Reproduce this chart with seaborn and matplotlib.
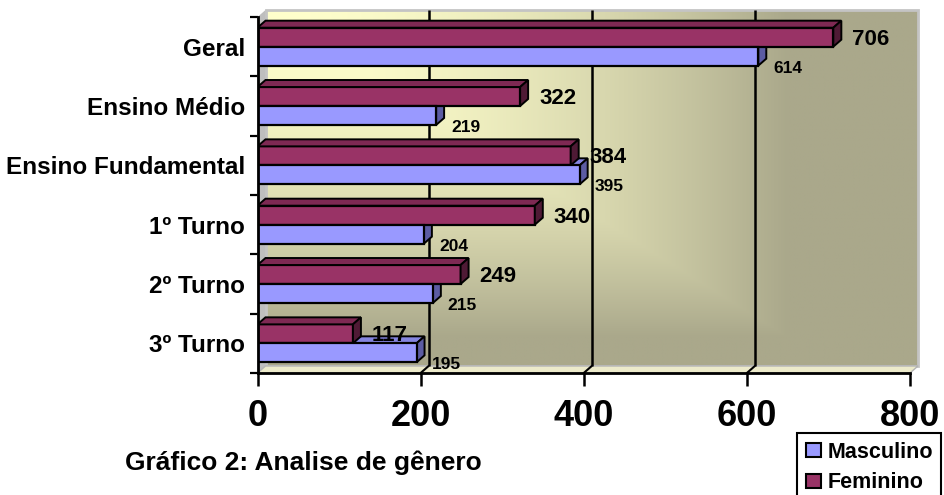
import numpy as np
import pandas as pd
import matplotlib
matplotlib.use("Agg")
import matplotlib.pyplot as plt
import seaborn as sns
from matplotlib.patches import Polygon, Patch, Rectangle
from matplotlib.colors import to_rgb

# ---- data -------------------------------------------------------------
categories = ["Geral", "Ensino Médio", "Ensino Fundamental",
              "1º Turno", "2º Turno", "3º Turno"]
masculino = [614, 219, 395, 204, 215, 195]
feminino = [706, 322, 384, 340, 249, 117]
x_ticks = [0, 200, 400, 600, 800]
series_names = ["Masculino", "Feminino"]
chart_title = "Gráfico 2: Analise de gênero"

df = pd.DataFrame({
    "categoria": categories * 2,
    "valor": masculino + feminino,
    "sexo": [series_names[0]] * len(categories) + [series_names[1]] * len(categories),
})
values = {"Masculino": masculino, "Feminino": feminino}

# ---- style --------------------------------------------------------------
W, H, DPI = 944, 495, 100
sns.set_theme(style="white")
plt.rcParams["font.family"] = ["Liberation Sans", "DejaVu Sans"]
plt.rcParams["font.weight"] = "bold"
for key in ("text.color", "axes.labelcolor", "xtick.color", "ytick.color"):
    plt.rcParams[key] = "black"

front = {"Masculino": "#9999FF", "Feminino": "#993366"}
top_face = {"Masculino": "#8585E0", "Feminino": "#7E2953"}
side_face = {"Masculino": "#5C5CA3", "Feminino": "#4F1A35"}

fig = plt.figure(figsize=(W / DPI, H / DPI), dpi=DPI)
fig.patch.set_facecolor("white")
ax = fig.add_axes([257.5 / W, 1 - 373 / H, (910 - 257.5) / W, (373 - 17) / H])
ax.set_facecolor("none")

sns.barplot(data=df, y="categoria", x="valor", hue="sexo",
            hue_order=["Feminino", "Masculino"], order=categories,
            palette=front, saturation=1, orient="h", width=0.64, gap=0,
            dodge=True, edgecolor="black", linewidth=1.6, errorbar=None,
            legend=False, ax=ax, zorder=3)
bars = list(ax.patches)

XLIM = (0, 800)
YLIM = (len(categories) - 0.5, -0.5)
ax.set_xlim(*XLIM)
ax.set_ylim(*YLIM)

# depth of the pseudo-3D effect, 8 px right and 7 px up, in data units
inv = ax.transData.inverted()
origin = ax.transData.transform((0, 0))
DX, DY = inv.transform(origin + np.array([8.0, 7.0]))
y_top, y_bot = YLIM[1], YLIM[0]

# ---- back wall with corner gradient -----------------------------------
nx, ny = 400, 240
u = np.linspace(0, 1, nx)[None, :]
v = np.linspace(0, 1, ny)[:, None]
t = np.clip(np.maximum(u / 0.8, v / 0.92), 0, 1) ** 1.8
light = np.array(to_rgb("#FFFFCC"))
dark = np.array(to_rgb("#AAA88B"))
img = light * (1 - t[..., None]) + dark * t[..., None]
ax.imshow(img, extent=(XLIM[0] + DX, XLIM[1] + DX, y_bot + DY, y_top + DY),
          aspect="auto", zorder=0, clip_on=False, interpolation="bilinear")
ax.set_xlim(*XLIM)
ax.set_ylim(*YLIM)

ax.add_patch(Rectangle((XLIM[0] + DX, y_top + DY), XLIM[1] - XLIM[0], y_bot - y_top,
                       fill=False, edgecolor="#C4C4C4", lw=2, zorder=0.5, clip_on=False))

# left wall and floor
ax.add_patch(Polygon([(0, y_top), (DX, y_top + DY), (DX, y_bot + DY), (0, y_bot)],
                     closed=True, facecolor="#BEBEBE", edgecolor="none",
                     zorder=0.6, clip_on=False))
ax.add_patch(Polygon([(0, y_bot), (DX, y_bot + DY), (XLIM[1] + DX, y_bot + DY), (XLIM[1], y_bot)],
                     closed=True, facecolor="#ECEACA", edgecolor="#B4B4B4", lw=1,
                     zorder=0.6, clip_on=False))

# gridlines on the back wall and across the floor
for gx in x_ticks[1:-1]:
    ax.plot([gx + DX, gx + DX], [y_top + DY, y_bot + DY], color="black", lw=1.8,
            zorder=1, clip_on=False, solid_capstyle="butt")
    ax.plot([gx + DX, gx], [y_bot + DY, y_bot], color="black", lw=1.5,
            zorder=1, clip_on=False)

# ---- pseudo-3D faces and value labels ---------------------------------
def series_of(rect):
    fc = np.array(rect.get_facecolor()[:3])
    best, dist = None, 1e9
    for name, col in front.items():
        d = np.abs(fc - np.array(to_rgb(col))).sum()
        if d < dist:
            best, dist = name, d
    return best

for rect in bars:
    name = series_of(rect)
    x0, w = rect.get_x(), rect.get_width()
    y0, h = rect.get_y(), rect.get_height()
    x1 = x0 + w
    yt, yb = min(y0, y0 + h), max(y0, y0 + h)
    z = 3 if name == "Feminino" else 2
    ax.add_patch(Polygon([(x0, yt), (x1, yt), (x1 + DX, yt + DY), (x0 + DX, yt + DY)],
                         closed=True, facecolor=top_face[name], edgecolor="black",
                         lw=1.4, zorder=z, joinstyle="miter"))
    ax.add_patch(Polygon([(x1, yt), (x1, yb), (x1 + DX, yb + DY), (x1 + DX, yt + DY)],
                         closed=True, facecolor=side_face[name], edgecolor="black",
                         lw=1.4, zorder=z, joinstyle="miter"))

    idx = int(round((yt + yb) / 2))
    val = values[name][idx]
    yc = (yt + yb) / 2
    if name == "Feminino":
        ax.annotate(f"{val}", xy=(val, yc), xytext=(19, -2), textcoords="offset pixels",
                    ha="left", va="center", fontsize=16, fontweight="bold",
                    color="black", zorder=5)
    else:
        ax.annotate(f"{val}", xy=(val, yc), xytext=(15, -12), textcoords="offset pixels",
                    ha="left", va="center", fontsize=12.5, fontweight="bold",
                    color="black", zorder=5)

# ---- axes ----------------------------------------------------------------
ax.set_xlabel("")
ax.set_ylabel("")
ax.set_yticks(range(len(categories)))
ax.set_yticklabels(categories, fontsize=17.5, fontweight="bold")
ax.set_yticks(np.arange(-0.5, len(categories), 1.0), minor=True)
ax.set_xticks(x_ticks)
ax.set_xticklabels([str(v) for v in x_ticks], fontsize=26, fontweight="bold")
ax.tick_params(axis="y", which="major", left=True, length=0, pad=9)
ax.tick_params(axis="y", which="minor", left=True, length=6, width=1.6,
               color="black", direction="out")
ax.tick_params(axis="x", which="major", bottom=True, length=9, width=1.8,
               color="black", direction="out", pad=10)
for side in ("top", "right"):
    ax.spines[side].set_visible(False)
for side in ("left", "bottom"):
    ax.spines[side].set_color("black")
    ax.spines[side].set_linewidth(2)
    ax.spines[side].set_zorder(4)

# ---- legend and caption -----------------------------------------------
handles = [Patch(facecolor=front[n], edgecolor="black", lw=1.5, label=n) for n in series_names]
leg = fig.legend(handles=handles, loc="upper left", bbox_to_anchor=(797 / W, 1 - 433 / H),
                 frameon=True, fancybox=False, edgecolor="black", framealpha=1,
                 prop={"size": 15.5, "weight": "bold"}, handlelength=0.7,
                 handleheight=0.6, handletextpad=0.3, labelspacing=0.45,
                 borderpad=0.4, borderaxespad=0)
leg.get_frame().set_linewidth(1.5)

fig.text(125 / W, 1 - 470 / H, chart_title, fontsize=19, fontweight="bold",
         ha="left", va="baseline")

fig.savefig("out.png", dpi=DPI)
